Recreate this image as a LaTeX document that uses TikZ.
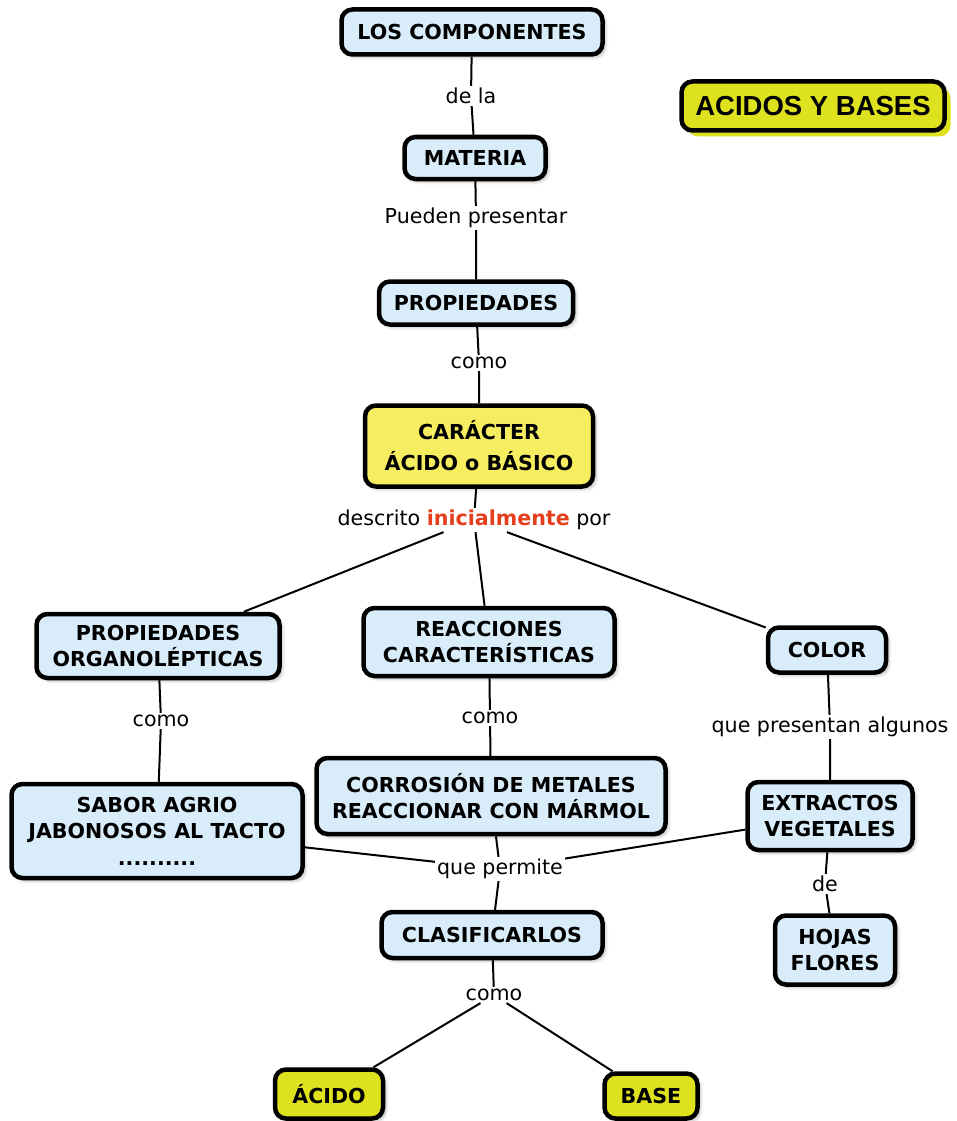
\documentclass[tikz,border=0pt]{standalone}
\usepackage{fontspec}
\setmainfont{DejaVu Sans}
\newfontfamily\headfont{Liberation Sans}
\usetikzlibrary{positioning, shadows.blur}
\definecolor{conceptBlue}{RGB}{216, 236, 249}
\definecolor{conceptYellow}{RGB}{246, 238, 96}
\definecolor{conceptLime}{RGB}{222, 226, 30}
\definecolor{linkRed}{RGB}{228, 62, 28}
\tikzset{
    % Base concept box
    concept/.style={
        rectangle,
        rounded corners=11pt,
        line width=4.5pt,
        draw=black,
        fill=conceptBlue,
        align=center,
        inner sep=0pt,
        font=\fontsize{20.6}{25.5}\selectfont\bfseries,
        blur shadow={shadow xshift=3pt, shadow yshift=-3pt, shadow blur radius=3pt, shadow opacity=25}
    },
    % Colour variants
    keyConcept/.style={concept, fill=conceptYellow},
    endConcept/.style={concept, fill=conceptLime},
    mapTitle/.style={concept, fill=conceptLime, font=\headfont\fontsize{27.5}{32}\selectfont\bfseries,
        copy shadow={shadow xshift=6pt, shadow yshift=-6pt, fill=conceptLime, draw=none}},
    % Linking phrases & lines
    linkText/.style={fill=white, inner sep=2pt, font=\fontsize{20.6}{24}\selectfont},
    link/.style={line width=2pt, draw=black}
}

\begin{document}
\begin{tikzpicture}[x=1pt, y=-1pt]
    \useasboundingbox (0,0) rectangle (957,1121);

    % --- TOP CHAIN ---
    \node (comp) [concept, minimum width=261pt, minimum height=45pt] at (472,32) {LOS COMPONENTES};
    \node (title) [mapTitle, minimum width=263pt, minimum height=49pt] at (813,106) {ACIDOS Y BASES};
    \node (materia) [concept, minimum width=141pt, minimum height=42pt] at (475,158) {MATERIA};
    \node (props) [concept, minimum width=194pt, minimum height=43pt] at (476,303) {PROPIEDADES};
    \node (caracter) [keyConcept, minimum width=228pt, minimum height=81pt,
        font=\fontsize{20.6}{31}\selectfont\bfseries] at (479,446) {CARÁCTER\\ÁCIDO o BÁSICO};

    % --- MIDDLE ROW ---
    \node (organo) [concept, minimum width=243pt, minimum height=64pt] at (158,646) {PROPIEDADES\\ORGANOLÉPTICAS};
    \node (reacc) [concept, minimum width=251pt, minimum height=68pt] at (489,642) {REACCIONES\\CARACTERÍSTICAS};
    \node (color) [concept, minimum width=118pt, minimum height=45pt] at (827,650) {COLOR};

    % --- EXAMPLES ---
    \node (sabor) [concept, minimum width=291pt, minimum height=94pt,
        font=\fontsize{20.6}{26.5}\selectfont\bfseries] at (157,831) {SABOR AGRIO\\JABONOSOS AL TACTO\\..........};
    \node (corros) [concept, minimum width=349pt, minimum height=76pt] at (491,796) {CORROSIÓN DE METALES\\REACCIONAR CON MÁRMOL};
    \node (extract) [concept, minimum width=165pt, minimum height=68pt] at (830,816) {EXTRACTOS\\VEGETALES};
    \node (hojas) [concept, minimum width=120pt, minimum height=69pt] at (835,950) {HOJAS\\FLORES};

    % --- CLASSIFICATION ---
    \node (clasif) [concept, minimum width=221pt, minimum height=46pt] at (492,935) {CLASIFICARLOS};
    \node (acido) [endConcept, minimum width=108pt, minimum height=49pt] at (329,1094) {ÁCIDO};
    \node (base) [endConcept, minimum width=93pt, minimum height=45pt] at (651,1096) {BASE};

    % --- Linking phrases ---
    \node (lDeLa) [linkText] at (471,96) {de la};
    \node (lPueden) [linkText] at (476,218) {Pueden presentar};
    \node (lComo1) [linkText] at (479,363) {como};
    \node (lDescrito) [linkText] at (474,520) {descrito {\color{linkRed}\bfseries inicialmente} por};
    \node (lComo2) [linkText] at (161,721) {como};
    \node (lComo3) [linkText] at (490,718) {como};
    \node (lPresentan) [linkText] at (830,727) {que presentan algunos};
    \node (lPermite) [linkText] at (500,869) {que permite};
    \node (lDe) [linkText] at (825,884) {de};
    \node (lComo4) [linkText] at (494,995) {como};

    % --- Connectors ---
    \draw [link] (comp) -- (lDeLa) -- (materia);
    \draw [link] (materia) -- (lPueden) -- (props);
    \draw [link] (props) -- (lComo1) -- (caracter);
    \draw [link] (caracter) -- (lDescrito);
    \draw [link] (lDescrito) -- (organo);
    \draw [link] (lDescrito) -- (reacc);
    \draw [link] (lDescrito) -- (color);
    \draw [link] (organo) -- (lComo2) -- (sabor);
    \draw [link] (reacc) -- (lComo3) -- (corros);
    \draw [link] (color) -- (lPresentan) -- (extract);
    \draw [link] (extract) -- (lDe) -- (hojas);
    \draw [link] (sabor) -- (lPermite);
    \draw [link] (corros) -- (lPermite);
    \draw [link] (extract) -- (lPermite);
    \draw [link] (lPermite) -- (clasif);
    \draw [link] (clasif) -- (lComo4);
    \draw [link] (lComo4) -- (acido);
    \draw [link] (lComo4) -- (base);

\end{tikzpicture}
\end{document}
